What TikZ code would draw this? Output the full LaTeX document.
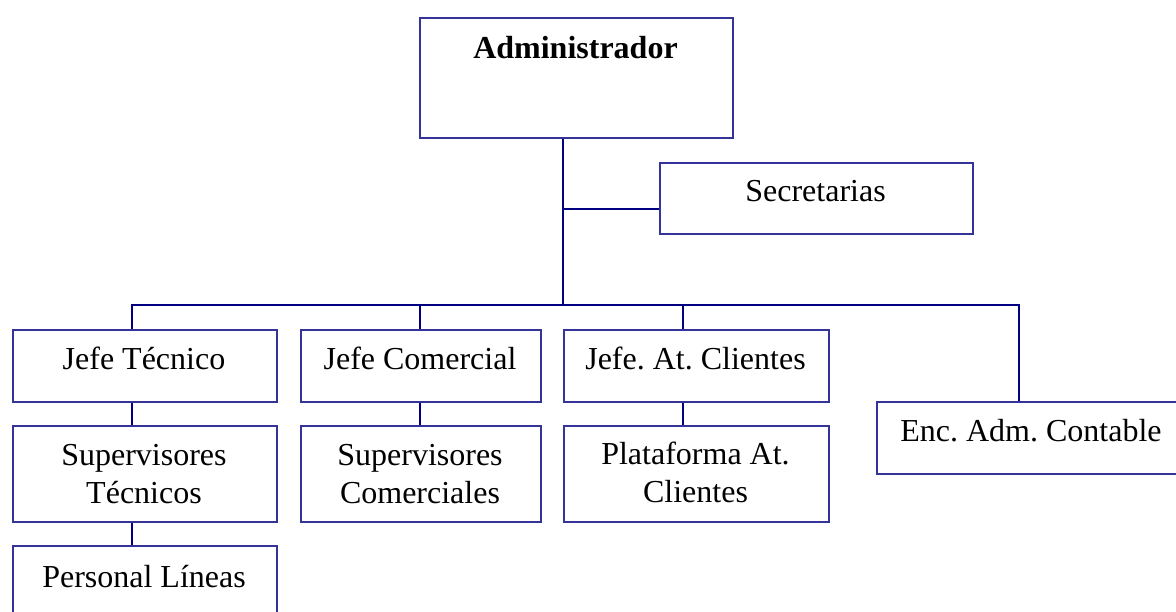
\documentclass[tikz,border=0pt]{standalone}
\usepackage{fontspec}
\setmainfont{Liberation Serif}
\frenchspacing
\definecolor{boxblue}{RGB}{51,51,153}
\definecolor{linkblue}{RGB}{0,0,128}
\begin{document}
\begin{tikzpicture}[x=1pt,y=-1pt,
  box/.style={draw=boxblue, line width=2pt, rectangle, inner sep=0pt, anchor=north west},
  lbl/.style={font=\fontsize{32}{38}\selectfont, anchor=base, align=center, inner sep=0pt},
  link/.style={draw=linkblue, line width=2pt}]
  % page frame
  \fill[white] (0,0) rectangle (1176,612);
  \useasboundingbox (0,0) rectangle (1176,612);

  % boxes
  \node[box, minimum width=313pt, minimum height=120pt] (adm)  at (419,17)  {};
  \node[box, minimum width=313pt, minimum height=71pt]  (sec)  at (659,162) {};
  \node[box, minimum width=264pt, minimum height=72pt]  (jt)   at (12,329)  {};
  \node[box, minimum width=240pt, minimum height=72pt]  (jc)   at (300,329) {};
  \node[box, minimum width=265pt, minimum height=72pt]  (jac)  at (563,329) {};
  \node[box, minimum width=310pt, minimum height=72pt]  (enc)  at (876,401) {};
  \node[box, minimum width=264pt, minimum height=96pt]  (supt) at (12,425)  {};
  \node[box, minimum width=240pt, minimum height=96pt]  (supc) at (300,425) {};
  \node[box, minimum width=265pt, minimum height=96pt]  (plat) at (563,425) {};
  \node[box, minimum width=264pt, minimum height=72pt]  (pers) at (12,545)  {};

  % labels (two-line labels are placed by the baseline of their last line)
  \node[lbl, font=\fontsize{32}{38}\selectfont\bfseries] (tadm) at (575.5,59) {Administrador};
  \node[lbl] (tsec)  at (815.5,202) {Secretarias};
  \node[lbl] (tjt)   at (144,370)   {Jefe Técnico};
  \node[lbl] (tjc)   at (420,370)   {Jefe Comercial};
  \node[lbl] (tjac)  at (695.5,370) {Jefe. At. Clientes};
  \node[lbl] (tenc)  at (1031,442)  {Enc. Adm. Contable};
  \node[lbl] (tsupt) at (144,503)   {Supervisores\\Técnicos};
  \node[lbl] (tsupc) at (420,503)   {Supervisores\\Comerciales};
  \node[lbl] (tplat) at (695.5,502) {Plataforma At.\\Clientes};
  \node[lbl] (tpers) at (144,587)   {Personal Líneas};

  % branch points
  \coordinate (hub)  at (563,305);
  \coordinate (stap) at (563,209);
  \coordinate (djt)  at (132,305);
  \coordinate (djc)  at (420,305);
  \coordinate (djac) at (683,305);
  \coordinate (denc) at (1019,305);

  % connectors
  \draw[link] (adm.south -| hub) -- (hub);
  \draw[link] (stap) -- (stap -| sec.west);
  \draw[link] (djt |- jt.north) -- (djt) -- (denc) -- (denc |- enc.north);
  \draw[link] (djc) -- (djc |- jc.north);
  \draw[link] (djac) -- (djac |- jac.north);
  \draw[link] (djt |- jt.south) -- (djt |- supt.north);
  \draw[link] (djt |- supt.south) -- (djt |- pers.north);
  \draw[link] (djc |- jc.south) -- (djc |- supc.north);
  \draw[link] (djac |- jac.south) -- (djac |- plat.north);
\end{tikzpicture}
\end{document}
